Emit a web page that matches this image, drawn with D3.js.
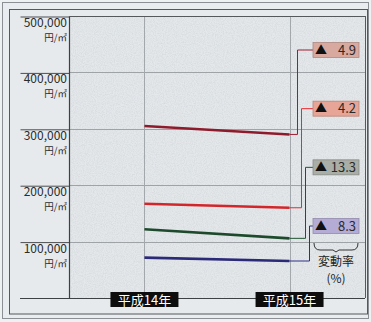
<!DOCTYPE html>
<html>
<head>
<meta charset="utf-8">
<script src="https://cdn.jsdelivr.net/npm/d3@7/dist/d3.min.js"></script>
<style>
  html, body { margin: 0; padding: 0; background: #e9edef; }
  svg { display: block; }
  text { font-family: "Noto Sans CJK JP", "Noto Sans", sans-serif; }
</style>
</head>
<body>
<svg id="chart" width="371" height="322"></svg>
<script>
// Land price per ㎡, two survey years, four series
const years = ["平成14年", "平成15年"];
const yTicks = [100000, 200000, 300000, 400000, 500000];
const seriesA = [305000, 290000];
const seriesB = [167000, 160000];
const seriesC = [122000, 105800];
const seriesD = [71500, 65600];
const changeRates = ["4.9", "4.2", "13.3", "8.3"];
const lineColors = ["#8e1b2c", "#d3262b", "#1d4a2c", "#2b2a78"];
const boxColors = ["#d8a99e", "#e6a597", "#a9aea6", "#b5acd6"];

const allSeries = [seriesA, seriesB, seriesC, seriesD];

const svg = d3.select("#chart");
const W = 371, H = 322;
const plot = { left: 69, right: 365, top: 16, bottom: 298 };

const defs = svg.append("defs");
const grain = defs.append("filter").attr("id", "grain")
  .attr("x", 0).attr("y", 0).attr("width", "100%").attr("height", "100%");
grain.append("feTurbulence").attr("type", "fractalNoise")
  .attr("baseFrequency", 0.9).attr("numOctaves", 2).attr("seed", 4).attr("result", "n");
grain.append("feColorMatrix").attr("in", "n").attr("type", "matrix")
  .attr("values", "0 0 0 0 0.5  0 0 0 0 0.53  0 0 0 0 0.55  0 0 0 -1.6 1.05");

// frame
svg.append("rect").attr("x", 0).attr("y", 0).attr("width", W).attr("height", H).attr("fill", "#eef1f2");
svg.append("rect").attr("x", 2.5).attr("y", 2.5).attr("width", 366).attr("height", 316)
  .attr("fill", "#e9edef").attr("stroke", "#8c9094").attr("stroke-width", 1);
svg.append("rect").attr("x", 9.5).attr("y", 9.5).attr("width", 358).attr("height", 304.5)
  .attr("fill", "#e6eaed").attr("stroke", "#55595c").attr("stroke-width", 1);

const y = d3.scaleLinear().domain([0, 500000]).range([plot.bottom, plot.top]);
const x = d3.scalePoint().domain(years).range([plot.left, plot.right]).padding(0.52);

// plot background with grain
svg.append("rect").attr("x", plot.left).attr("y", plot.top)
  .attr("width", plot.right - plot.left).attr("height", plot.bottom - plot.top)
  .attr("fill", "#e4e8eb");
svg.append("rect").attr("x", plot.left).attr("y", plot.top)
  .attr("width", plot.right - plot.left).attr("height", plot.bottom - plot.top)
  .attr("filter", "url(#grain)").attr("opacity", 0.4);

// horizontal grid inside plot
svg.append("g").selectAll("line").data(yTicks).join("line")
  .attr("x1", plot.left).attr("x2", plot.right)
  .attr("y1", d => Math.round(y(d)) + 0.5).attr("y2", d => Math.round(y(d)) + 0.5)
  .attr("stroke", "#9ea3a7").attr("stroke-width", 1);

// vertical grid at the years
svg.append("g").selectAll("line").data(years).join("line")
  .attr("x1", d => Math.round(x(d)) + 0.5).attr("x2", d => Math.round(x(d)) + 0.5)
  .attr("y1", plot.top).attr("y2", plot.bottom)
  .attr("stroke", "#a3a8ac").attr("stroke-width", 1);

// y axis: long ticks to the left, labels below each tick
const yAxis = d3.axisLeft(y).tickValues(yTicks).tickSize(49).tickFormat("");
const gy = svg.append("g").attr("transform", `translate(${plot.left + 0.5},0.5)`).call(yAxis);
gy.select(".domain").remove();
gy.selectAll(".tick line").attr("stroke", "#4a4d50");
const labels = svg.append("g").selectAll("g").data(yTicks).join("g")
  .attr("transform", d => `translate(${plot.left - 2},${Math.round(y(d))})`);
labels.append("text").attr("y", 11).attr("text-anchor", "end")
  .attr("font-family", "'Liberation Sans', Arial, sans-serif")
  .attr("font-size", 12).attr("fill", "#2a2c2e").text(d => d3.format(",")(d));
labels.append("text").attr("y", 25).attr("text-anchor", "end")
  .attr("font-size", 9.5).attr("fill", "#2a2c2e").text("円/㎡");

// axis lines and plot border
svg.append("line").attr("x1", 20).attr("x2", plot.right).attr("y1", plot.bottom + 0.5).attr("y2", plot.bottom + 0.5)
  .attr("stroke", "#3e4144").attr("stroke-width", 1.2);
svg.append("line").attr("x1", plot.left + 0.5).attr("x2", plot.left + 0.5).attr("y1", plot.top).attr("y2", plot.bottom)
  .attr("stroke", "#3e4144").attr("stroke-width", 1.2);
svg.append("line").attr("x1", plot.right + 0.5).attr("x2", plot.right + 0.5).attr("y1", plot.top).attr("y2", plot.bottom)
  .attr("stroke", "#55595c").attr("stroke-width", 1);
svg.append("line").attr("x1", plot.left).attr("x2", plot.right).attr("y1", plot.top + 0.5).attr("y2", plot.top + 0.5)
  .attr("stroke", "#55595c").attr("stroke-width", 1);

// label rows on the right
const boxX = 313, boxW = 46, boxH = 15;
const rowY = d3.scalePoint().domain(d3.range(4)).range([50, 226]);
const elbowX = d3.scalePoint().domain(d3.range(4)).range([297, 309]);

// connectors from line ends to the labels
allSeries.forEach((s, i) => {
  const ex = x(years[1]), ey = y(s[1]);
  svg.append("path")
    .attr("d", d3.line()([[ex, ey], [elbowX(i) + 0.5, ey], [elbowX(i) + 0.5, rowY(i)], [boxX, rowY(i)]]))
    .attr("fill", "none").attr("stroke", d3.color(lineColors[i]).brighter(0.3)).attr("stroke-width", 1);
});

// series lines
const lineGen = d3.line().x((d, i) => x(years[i])).y(d => y(d));
svg.append("g").selectAll("path").data(allSeries).join("path")
  .attr("d", d => lineGen(d))
  .attr("fill", "none").attr("stroke", (d, i) => lineColors[i]).attr("stroke-width", 2.6);

// change-rate boxes
const boxes = svg.append("g").selectAll("g").data(changeRates).join("g")
  .attr("transform", (d, i) => `translate(${boxX},${rowY(i) - boxH / 2})`);
boxes.append("rect").attr("width", boxW).attr("height", boxH)
  .attr("fill", (d, i) => boxColors[i])
  .attr("stroke", (d, i) => d3.color(boxColors[i]).darker(0.6)).attr("stroke-width", 0.8);
boxes.append("text").attr("x", 2).attr("y", 12).attr("font-size", 12).attr("fill", "#111")
  .text("▲");
boxes.append("text").attr("x", boxW - 3).attr("y", 12).attr("text-anchor", "end")
  .attr("font-family", "'Liberation Sans', Arial, sans-serif")
  .attr("font-size", 13).attr("fill", "#2a2a2a").text(d => d);

// brace under the last box and its caption
const bl = boxX + 1, br = boxX + boxW - 1, bt = 243, bb = 250;
svg.append("path")
  .attr("d", `M${bl},${bt} Q${bl},${bb} ${bl + 6},${bb} L${(bl + br) / 2 - 3},${bb} L${(bl + br) / 2},${bb + 2} L${(bl + br) / 2 + 3},${bb} L${br - 6},${bb} Q${br},${bb} ${br},${bt}`)
  .attr("fill", "none").attr("stroke", "#333").attr("stroke-width", 1);
svg.append("text").attr("x", (bl + br) / 2).attr("y", 266).attr("text-anchor", "middle")
  .attr("font-size", 12).attr("fill", "#222").text("変動率");
svg.append("text").attr("x", (bl + br) / 2).attr("y", 283).attr("text-anchor", "middle")
  .attr("font-size", 12).attr("fill", "#222").text("(%)");

// year labels on black tags
const tags = svg.append("g").selectAll("g").data(years).join("g")
  .attr("transform", d => `translate(${x(d)},${299})`);
tags.append("rect").attr("x", -34).attr("y", -7).attr("width", 68).attr("height", 15).attr("fill", "#0d0d0d");
tags.append("text").attr("y", 5.5).attr("text-anchor", "middle")
  .attr("font-size", 13).attr("fill", "#ffffff").text(d => d);
</script>
</body>
</html>
